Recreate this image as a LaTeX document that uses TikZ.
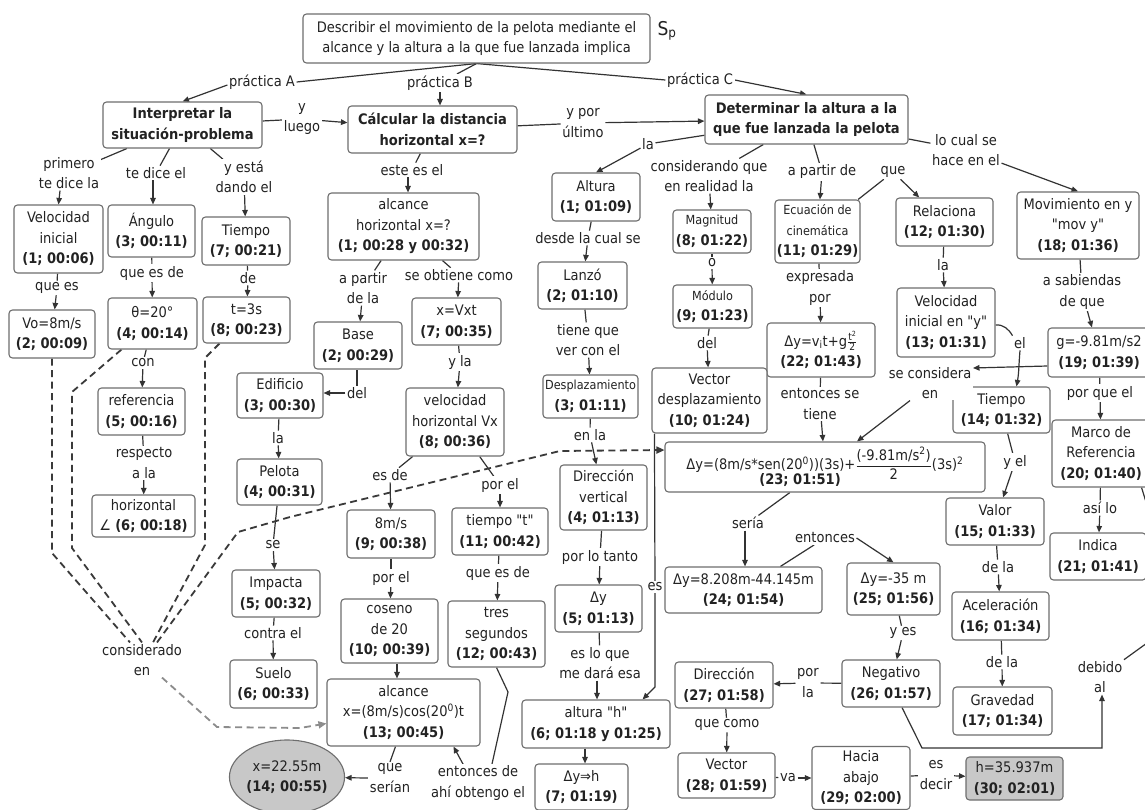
\documentclass[tikz,border=0pt]{standalone}
\usepackage{fontspec}
\usepackage{amsmath}
\setmainfont{DejaVu Sans}[FakeStretch=0.9, Ligatures=TeXOff]
\usetikzlibrary{arrows.meta,shapes.geometric,backgrounds}
\definecolor{txt}{HTML}{222222}
\definecolor{boxc}{HTML}{6E6E6E}
\definecolor{linec}{HTML}{333333}
\definecolor{dashc}{HTML}{3A3A3A}
\definecolor{dashl}{HTML}{8C8C8C}
\definecolor{shade}{HTML}{C8C8C8}
\newcommand\nf{\fontsize{14.5}{20.5}\selectfont}
\newcommand\smallf{\fontsize{12.5}{17}\selectfont}
% straight double quote
\newcommand\straightq{\char34\relax}
% concept box: name, x, y, width, height, text
\newcommand\mkbox[6]{\node[cpt,minimum width=#4pt,minimum height=#5pt] (#1) at (#2,#3) {#6};}
\tikzset{
  cpt/.style={draw=boxc, line width=1.1pt, rounded corners=3.5pt, fill=white,
    align=center, inner sep=1.5pt, font=\nf, text=txt},
  lab/.style={fill=white, align=center, inner sep=1.5pt, font=\nf, text=txt},
  ln/.style={draw=linec, line width=1.2pt},
  arr/.style={ln, -{Triangle[length=6.5pt,width=5.5pt]}},
  dsh/.style={draw=dashc, line width=1.8pt, dash pattern=on 7pt off 4.5pt},
  dshl/.style={dsh, draw=dashl},
  ell/.style={ellipse, draw=boxc, fill=shade, line width=1.1pt, minimum width=114pt,
    minimum height=74pt, align=center, inner sep=0pt, font=\nf, text=txt}
}
\begin{document}
\begin{tikzpicture}[x=1pt,y=-1pt]
\clip (0,0) rectangle (1145,810);
\begin{scope}[on background layer]
\fill[white] (0,0) rectangle (1145,810);
\end{scope}

% ---------- concepts ----------
\mkbox{top}{476.5}{38.5}{347}{49}{Describir el movimiento de la pelota mediante el\\alcance y la altura a la que fue lanzada implica}
\node[lab, fill=none, font=\fontsize{19}{20}\selectfont] (sp) at (667,31) {S\textsubscript{p}};
\mkbox{Interp}{182.5}{125}{159}{46}{\textbf{Interpretar la}\\\textbf{situación-problema}}
\mkbox{Calc}{432.5}{129.5}{169}{47}{\textbf{Cálcular la distancia}\\\textbf{horizontal x=?}}
\mkbox{Det}{806.5}{119.5}{203}{49}{\textbf{Determinar la altura a la}\\\textbf{que fue lanzada la pelota}}
\mkbox{Vel}{58.5}{239}{89}{68}{Velocidad\\inicial\\\textbf{(1; 00:06)}}
\mkbox{Ang}{151.5}{231}{87}{52}{Ángulo\\\textbf{(3; 00:11)}}
\mkbox{TieA}{246}{241}{88}{48}{Tiempo\\\textbf{(7; 00:21)}}
\mkbox{AlcA}{403.5}{226.5}{151}{67}{alcance\\horizontal x=?\\\textbf{(1; 00:28 y 00:32)}}
\mkbox{Alt}{596}{197}{88}{48}{Altura\\\textbf{(1; 01:09)}}
\mkbox{Mag}{712}{231.5}{78}{43}{{\smallf Magnitud}\\\textbf{(8; 01:22)}}
\mkbox{Ecu}{817.5}{231.5}{85}{63}{{\smallf Ecuación de}\\{\smallf cinemática}\\\textbf{(11; 01:29)}}
\mkbox{Rel}{944.5}{222}{97}{48}{Relaciona\\\textbf{(12; 01:30)}}
\mkbox{Mov}{1078}{225.5}{122}{67}{Movimiento en y\\\straightq mov y\straightq\\\textbf{(18; 01:36)}}
\mkbox{Vo}{52}{334}{86}{48}{Vo=8m/s\\\textbf{(2; 00:09)}}
\mkbox{th}{152.5}{323.5}{89}{51}{θ=20°\\\textbf{(4; 00:14)}}
\mkbox{tts}{246.5}{320}{87}{46}{t=3s\\\textbf{(8; 00:23)}}
\mkbox{Base}{358}{345.5}{88}{47}{Base\\\textbf{(2; 00:29)}}
\mkbox{xVxt}{456.5}{321.5}{89}{47}{x=Vxt\\\textbf{(7; 00:35)}}
\mkbox{Lan}{582.5}{285.5}{89}{47}{Lanzó\\\textbf{(2; 01:10)}}
\mkbox{Mod}{712.5}{306.5}{79}{43}{{\smallf Módulo}\\\textbf{(9; 01:23)}}
\mkbox{Dyv}{821}{350}{108}{54}{Δy=v\textsubscript{i}t+g$\tfrac{\text{t\textsuperscript{2}}}{\text{2}}$\\\textbf{(22; 01:43)}}
\mkbox{VIy}{946}{322.5}{98}{69}{Velocidad\\inicial en \straightq y\straightq\\\textbf{(13; 01:31)}}
\mkbox{g}{1099}{352.5}{102}{49}{g=-9.81m/s2\\\textbf{(19; 01:39)}}
\mkbox{Edi}{280}{395.5}{86}{45}{Edificio\\\textbf{(3; 00:30)}}
\mkbox{Ref}{141.5}{411.5}{87}{47}{referencia\\\textbf{(5; 00:16)}}
\mkbox{VH}{455}{422}{98}{68}{velocidad\\horizontal Vx\\\textbf{(8; 00:36)}}
\mkbox{Desp}{590.5}{396.5}{95}{43}{{\smallf Desplazamiento}\\\textbf{(3; 01:11)}}
\mkbox{VecD}{709.5}{400.5}{115}{65}{Vector\\desplazamiento\\\textbf{(10; 01:24)}}
\mkbox{TieB}{1001.5}{410}{97}{46}{Tiempo\\\textbf{(14; 01:32)}}
\mkbox{Marco}{1101}{453.5}{98}{67}{Marco de\\Referencia\\\textbf{(20; 01:40)}}
\mkbox{Big}{825}{467}{320}{50}{Δy=(8m/s*sen(20\textsuperscript{0}))(3s)+$\dfrac{\text{(-9.81m/s\textsuperscript{2})}}{\text{2}}$(3s)\textsuperscript{2}\\[-7pt]\hspace*{-50pt}\textbf{(23; 01:51)}}
\mkbox{Pel}{279.5}{482}{85}{46}{Pelota\\\textbf{(4; 00:31)}}
\mkbox{Hor}{143.5}{516}{103}{42}{horizontal\\∠ \textbf{(6; 00:18)}}
\mkbox{DirV}{603.5}{497.5}{87}{65}{Dirección\\vertical\\\textbf{(4; 01:13)}}
\mkbox{Val}{995}{521.5}{98}{47}{Valor\\\textbf{(15; 01:33)}}
\mkbox{Ind}{1098}{556.5}{96}{47}{Indica\\\textbf{(21; 01:41)}}
\mkbox{Ems}{391}{534}{88}{48}{8m/s\\\textbf{(9; 00:38)}}
\mkbox{Tt}{500}{531.5}{96}{47}{tiempo \straightq t\straightq\\\textbf{(11; 00:42)}}
\mkbox{Imp}{276}{593.5}{88}{47}{Impacta\\\textbf{(5; 00:32)}}
\mkbox{Dea}{743.5}{590}{157}{46}{Δy=8.208m-44.145m\\\textbf{(24; 01:54)}}
\mkbox{Deb}{893.5}{589}{93}{52}{Δy=-35 m\\\textbf{(25; 01:56)}}
\mkbox{Dyc}{598.5}{608.5}{87}{47}{Δy\\\textbf{(5; 01:13)}}
\mkbox{Acel}{1000.5}{616}{97}{48}{Aceleración\\\textbf{(16; 01:34)}}
\mkbox{Cos}{389.5}{631}{97}{64}{coseno\\de 20\\\textbf{(10; 00:39)}}
\mkbox{Tres}{496.5}{634}{97}{66}{tres\\segundos\\\textbf{(12; 00:43)}}
\mkbox{Sue}{273.5}{684}{87}{48}{Suelo\\\textbf{(6; 00:33)}}
\mkbox{Neg}{891}{683.5}{98}{47}{Negativo\\\textbf{(26; 01:57)}}
\mkbox{DirB}{724}{685}{98}{46}{Dirección\\\textbf{(27; 01:58)}}
\mkbox{Grav}{1002.5}{711}{99}{48}{Gravedad\\\textbf{(17; 01:34)}}
\mkbox{AlcB}{403.5}{712.5}{153}{67}{alcance\\x=(8m/s)cos(20\textsuperscript{0})t\\\textbf{(13; 00:45)}}
\mkbox{Alth}{596}{724}{148}{48}{altura \straightq h\straightq\\\textbf{(6; 01:18 y 01:25)}}
\node[ell] (Ell) at (287,777) {x=22.55m\\\textbf{(14; 00:55)}};
\mkbox{VecB}{726.5}{775.5}{97}{45}{Vector\\\textbf{(28; 01:59)}}
\mkbox{Hac}{861}{778}{98}{63}{Hacia\\abajo\\\textbf{(29; 02:00)}}
\node[cpt, fill=shade, minimum width=97pt, minimum height=43pt] (H) at (1014.5,778.5) {h=35.937m\\\textbf{(30; 02:01)}};
\mkbox{Dyh}{581.5}{787}{93}{46}{Δy⇒h\\\textbf{(7; 01:19)}}

% ---------- linking phrases ----------
\node[lab] (L1) at (262,82) {práctica A};
\node[lab] (L2) at (440,83) {práctica B};
\node[lab] (L3) at (700,80) {práctica C};
\node[lab] (L4) at (302,119) {y\\luego};
\node[lab] (L5) at (583,123) {y por\\último};
\node[lab] (L6) at (966,150) {lo cual se\\hace en el};
\node[lab] (L7) at (648,144) {la};
\node[lab] (L8) at (709,176) {considerando que\\en realidad la};
\node[lab] (L9) at (822,172) {a partir de};
\node[lab] (L10) at (893,172) {que};
\node[lab] (L11) at (69,173) {primero\\te dice la};
\node[lab] (L12) at (156,173) {te dice el};
\node[lab] (L13) at (244,177) {y está\\dando el};
\node[lab] (L14) at (412,170) {este es el};
\node[lab] (L15) at (588,238) {desde la cual se};
\node[lab] (L16) at (712,263) {o};
\node[lab] (L17) at (943,265) {la};
\node[lab] (L18) at (820,288) {expresada\\por};
\node[lab] (L19) at (1082,292) {a sabiendas\\de que};
\node[lab] (L20) at (57,288) {que es};
\node[lab] (L21) at (152,273) {que es de};
\node[lab] (L22) at (248,278) {de};
\node[lab] (L23) at (363,288) {a partir\\de la};
\node[lab] (L24) at (459,275) {se obtiene como};
\node[lab] (L25) at (588,340) {tiene que\\ver con el};
\node[lab] (L26) at (707,343) {del};
\node[lab] (L27) at (1020,343) {el};
\node[lab] (L28) at (930,383) {se considera\\en};
\node[lab] (L29) at (1100,393) {por que el};
\node[lab] (L30) at (820,404) {entonces se\\tiene};
\node[lab] (L31) at (143,363) {con};
\node[lab] (L32) at (357,393) {del};
\node[lab] (L33) at (460,362) {y la};
\node[lab] (L34) at (278,438) {la};
\node[lab] (L35) at (590,435) {en la};
\node[lab] (L36) at (144,463) {respecto\\a la};
\node[lab] (L37) at (1015,462) {y el};
\node[lab] (L38) at (390,475) {es de};
\node[lab] (L39) at (500,485) {por el};
\node[lab] (L40) at (1100,508) {así lo};
\node[lab] (L41) at (748,523) {sería};
\node[lab] (L42) at (825,538) {entonces};
\node[lab] (L43) at (273,545) {se};
\node[lab] (L44) at (600,557) {por lo tanto};
\node[lab] (L45) at (998,567) {de la};
\node[lab] (L46) at (391,578) {por el};
\node[lab] (L47) at (498,573) {que es de};
\node[lab] (L48) at (655,587) {es};
\node[lab] (L49) at (903,633) {y es};
\node[lab] (L50) at (273,633) {contra el};
\node[lab] (L51) at (142,660) {considerado\\en};
\node[lab] (L52) at (600,663) {es lo que\\me dará esa};
\node[lab] (L53) at (1002,662) {de la};
\node[lab] (L54) at (1100,677) {debido\\al};
\node[lab] (L55) at (808,683) {por\\la};
\node[lab] (L56) at (727,725) {que como};
\node[lab] (L57) at (390,778) {que\\serían};
\node[lab] (L58) at (478,783) {entonces de\\ahí obtengo el};
\node[lab] (L59) at (788,778) {va};
\node[lab] (L60) at (936,775) {es\\decir};

% ---------- bend points ----------
\coordinate (dv1) at (52,553);
\coordinate (dt1) at (72,392);
\coordinate (dt2) at (72,548);
\coordinate (dq1) at (205,358);
\coordinate (dq2) at (205,545);
\coordinate (dp1) at (238,532);
\coordinate (dp2) at (290,517);
\coordinate (dp3) at (560,451);
\coordinate (dg1) at (217,727);
\coordinate (dg2) at (300,728);
\coordinate (esb) at (655,687);
\coordinate (tb) at (508,692);
\coordinate (nb1) at (922,748);
\coordinate (nb2) at (1102,748);
\coordinate (offR) at (1165,630);
\coordinate (offM) at (1150,515);

% ---------- connectors ----------
\begin{scope}[on background layer]
\draw[ln] (top.south) -- (L1.east);
\draw[ln] (top.south) -- (L2);
\draw[ln] (top.south) -- (L3.west);
\draw[arr] ([yshift=-3pt]L1.west) -- (Interp.north);
\draw[arr] (L2) -- (L2 |- Calc.north);
\draw[arr] (L3.east) -- (Det.north);
\draw[ln] (Interp) -- (L4);  \draw[arr] (L4) -- (Calc);
\draw[ln] (Calc) -- (L5);    \draw[arr] (L5) -- (Det);
\draw[ln] (Det) -- (L6);     \draw[arr] (L6) -- (Mov.north);
\draw[ln] (Det) -- (L7);     \draw[arr] (L7) -- (Alt.north);
\draw[ln] (Det) -- (L8);     \draw[arr] (L8) -- (Mag);
\draw[ln] (Det) -- (L9);     \draw[arr] (L9) -- (Ecu);
\draw[ln] (Ecu) -- (L10);    \draw[arr] (L10) -- (Rel);
\draw[ln] (Interp) -- (L11); \draw[arr] ([xshift=-9pt]L11.south) -- (Vel.north);
\draw[ln] (Interp) -- (L12); \draw[arr] ([xshift=-3pt]L12.south) -- ([xshift=1.5pt]Ang.north);
\draw[ln] (Interp) -- (L13); \draw[arr] (L13) -- (TieA);
\draw[ln] (Calc) -- (L14);   \draw[arr] ([xshift=-4pt]L14.south) -- ([xshift=4.5pt]AlcA.north);
\draw[ln] (Alt) -- (L15);    \draw[arr] (L15) -- (Lan);
\draw[ln] (Mag) -- (L16);    \draw[arr] (L16) -- (Mod);
\draw[ln] (Rel) -- (L17);    \draw[arr] (L17) -- (VIy);
\draw[ln] (Ecu) -- (L18);    \draw[arr] (L18) -- (Dyv);
\draw[ln] (Mov) -- (L19);    \draw[arr] (L19) -- (g);
\draw[ln] (Vel) -- (L20);    \draw[arr] (L20) -- (Vo);
\draw[ln] (Ang) -- (L21);    \draw[arr] (L21) -- (th);
\draw[ln] (TieA) -- (L22);   \draw[arr] (L22) -- (tts);
\draw[ln] (AlcA) -- (L23);   \draw[arr] (L23) -- (Base);
\draw[ln] (AlcA) -- (L24);   \draw[arr] (L24) -- (xVxt);
\draw[ln] (Lan) -- (L25);    \draw[arr] (L25) -- (Desp);
\draw[ln] (Mod) -- (L26);    \draw[arr] (L26) -- (VecD);
\draw[ln] ([yshift=-2.5pt]VIy.east) to[out=5,in=120] (L27.north west);
\draw[arr] (L27.south) to[out=-95,in=80] ([xshift=15pt]TieB.north);
\draw[arr] ([yshift=-13.5pt]g.west) -- ([yshift=15pt]L28.east);
\draw[arr] ([xshift=-20pt]L28.south) -- ([xshift=32pt]Big.north);
\draw[ln] (g) -- (L29);      \draw[arr] (L29) -- (Marco);
\draw[ln] (Dyv) -- (L30);    \draw[arr] (L30) -- (Big);
\draw[ln] (th) -- (L31);     \draw[arr] (L31) -- (Ref);
\draw[ln] (L32.north) -- (L32.north |- Base.south);
\draw[arr] (L32.west) -- (L32.west -| Edi.east);
\draw[ln] (xVxt) -- (L33);   \draw[arr] (L33) -- (VH);
\draw[ln] (Edi) -- (L34);    \draw[arr] (L34) -- (Pel);
\draw[ln] (Desp) -- (L35);   \draw[arr] (L35) -- (DirV);
\draw[ln] (Ref) -- (L36);    \draw[arr] (L36) -- (Hor);
\draw[ln] (TieB) -- (L37);   \draw[arr] (L37) -- (Val);
\draw[ln] (VH) -- (L38);     \draw[arr] (L38) -- (Ems);
\draw[ln] (VH) -- (L39);     \draw[arr] (L39) -- (Tt);
\draw[ln] (Marco) -- (L40);  \draw[arr] (L40) -- (Ind);
\draw[ln] (Big) -- (L41);    \draw[arr] ([xshift=-3pt]L41.south) -- ([xshift=1.5pt]Dea.north);
\draw[ln] (Dea) -- (L42);    \draw[arr] (L42.east) -- (Deb.north);
\draw[ln] (Pel) -- (L43);    \draw[arr] (L43) -- (Imp);
\draw[ln] (DirV) -- (L44);   \draw[arr] (L44) -- (Dyc);
\draw[ln] (Val) -- (L45);    \draw[arr] (L45) -- (Acel);
\draw[ln] (Ems) -- (L46);    \draw[arr] (L46) -- (Cos);
\draw[ln] (Tt) -- (L47);     \draw[arr] (L47) -- (Tres);
\draw[ln] ([xshift=3pt]VecD.south west) -- (L48);
\draw[arr] (L48) -- (esb) -- ([xshift=-28pt]Alth.north east);
\draw[ln] (Deb) -- (L49);    \draw[arr] (L49) -- (Neg);
\draw[ln] (Imp) -- (L50);    \draw[arr] (L50) -- (Sue);
\draw[ln] (Dyc) -- (L52);    \draw[arr] ([xshift=-3pt]L52.south) -- ([xshift=1pt]Alth.north);
\draw[ln] (Acel) -- (L53);   \draw[arr] (L53) -- (Grav);
\draw[arr] ([xshift=11pt]Neg.south) -- (nb1) -- (nb2) -- (L54.south -| nb2);
\draw[ln] (L54) -- (offR);
\draw[ln] ([xshift=-9pt]Marco.south east) -- (offM);
\draw[ln] (Neg) -- (L55);    \draw[arr] (L55) -- (DirB);
\draw[ln] (DirB) -- (L56);   \draw[arr] (L56) -- (VecB);
\draw[ln] ([xshift=-8pt]AlcB.south) -- (L57.north);
\draw[arr] (L57.west) -- (Ell);
\draw[ln] (Tres.south) -- (tb) -- ([xshift=14pt]L58.north);
\draw[arr] ([xshift=-15pt]L58.north) -- ([xshift=50pt]AlcB.south);
\draw[arr] ([xshift=7.5pt]Cos.south) -- ([xshift=-6.5pt]AlcB.north);
\draw[arr] ([xshift=-11pt]Alth.south) -- ([xshift=3.5pt]Dyh.north);
\draw[ln] (VecB) -- (L59);   \draw[arr] (L59) -- (Hac);
\draw[ln] (Hac) -- (L60);    \draw[arr] (L60) -- (H);
% dashed links through "considerado en"
\draw[dsh] (Vo.south) -- (dv1) -- ([xshift=-12pt]L51.north);
\draw[dsh] ([xshift=14pt]th.south west) -- (dt1) -- (dt2) -- (L51.north);
\draw[dsh] ([xshift=17pt]tts.south west) -- (dq1) -- (dq2) -- ([xshift=11pt]L51.north);
\draw[dsh, -{Triangle[length=8pt,width=7pt]}] ([xshift=15pt]L51.north) -- (dp1) -- (dp2) -- (dp3) -- ([yshift=17pt]Big.west);
\draw[dshl, -{Triangle[length=8pt,width=7pt]}] ([xshift=20pt]L51.south) -- (dg1) -- (dg2) -- ([yshift=-11pt]AlcB.west);
\end{scope}
\end{tikzpicture}
\end{document}
